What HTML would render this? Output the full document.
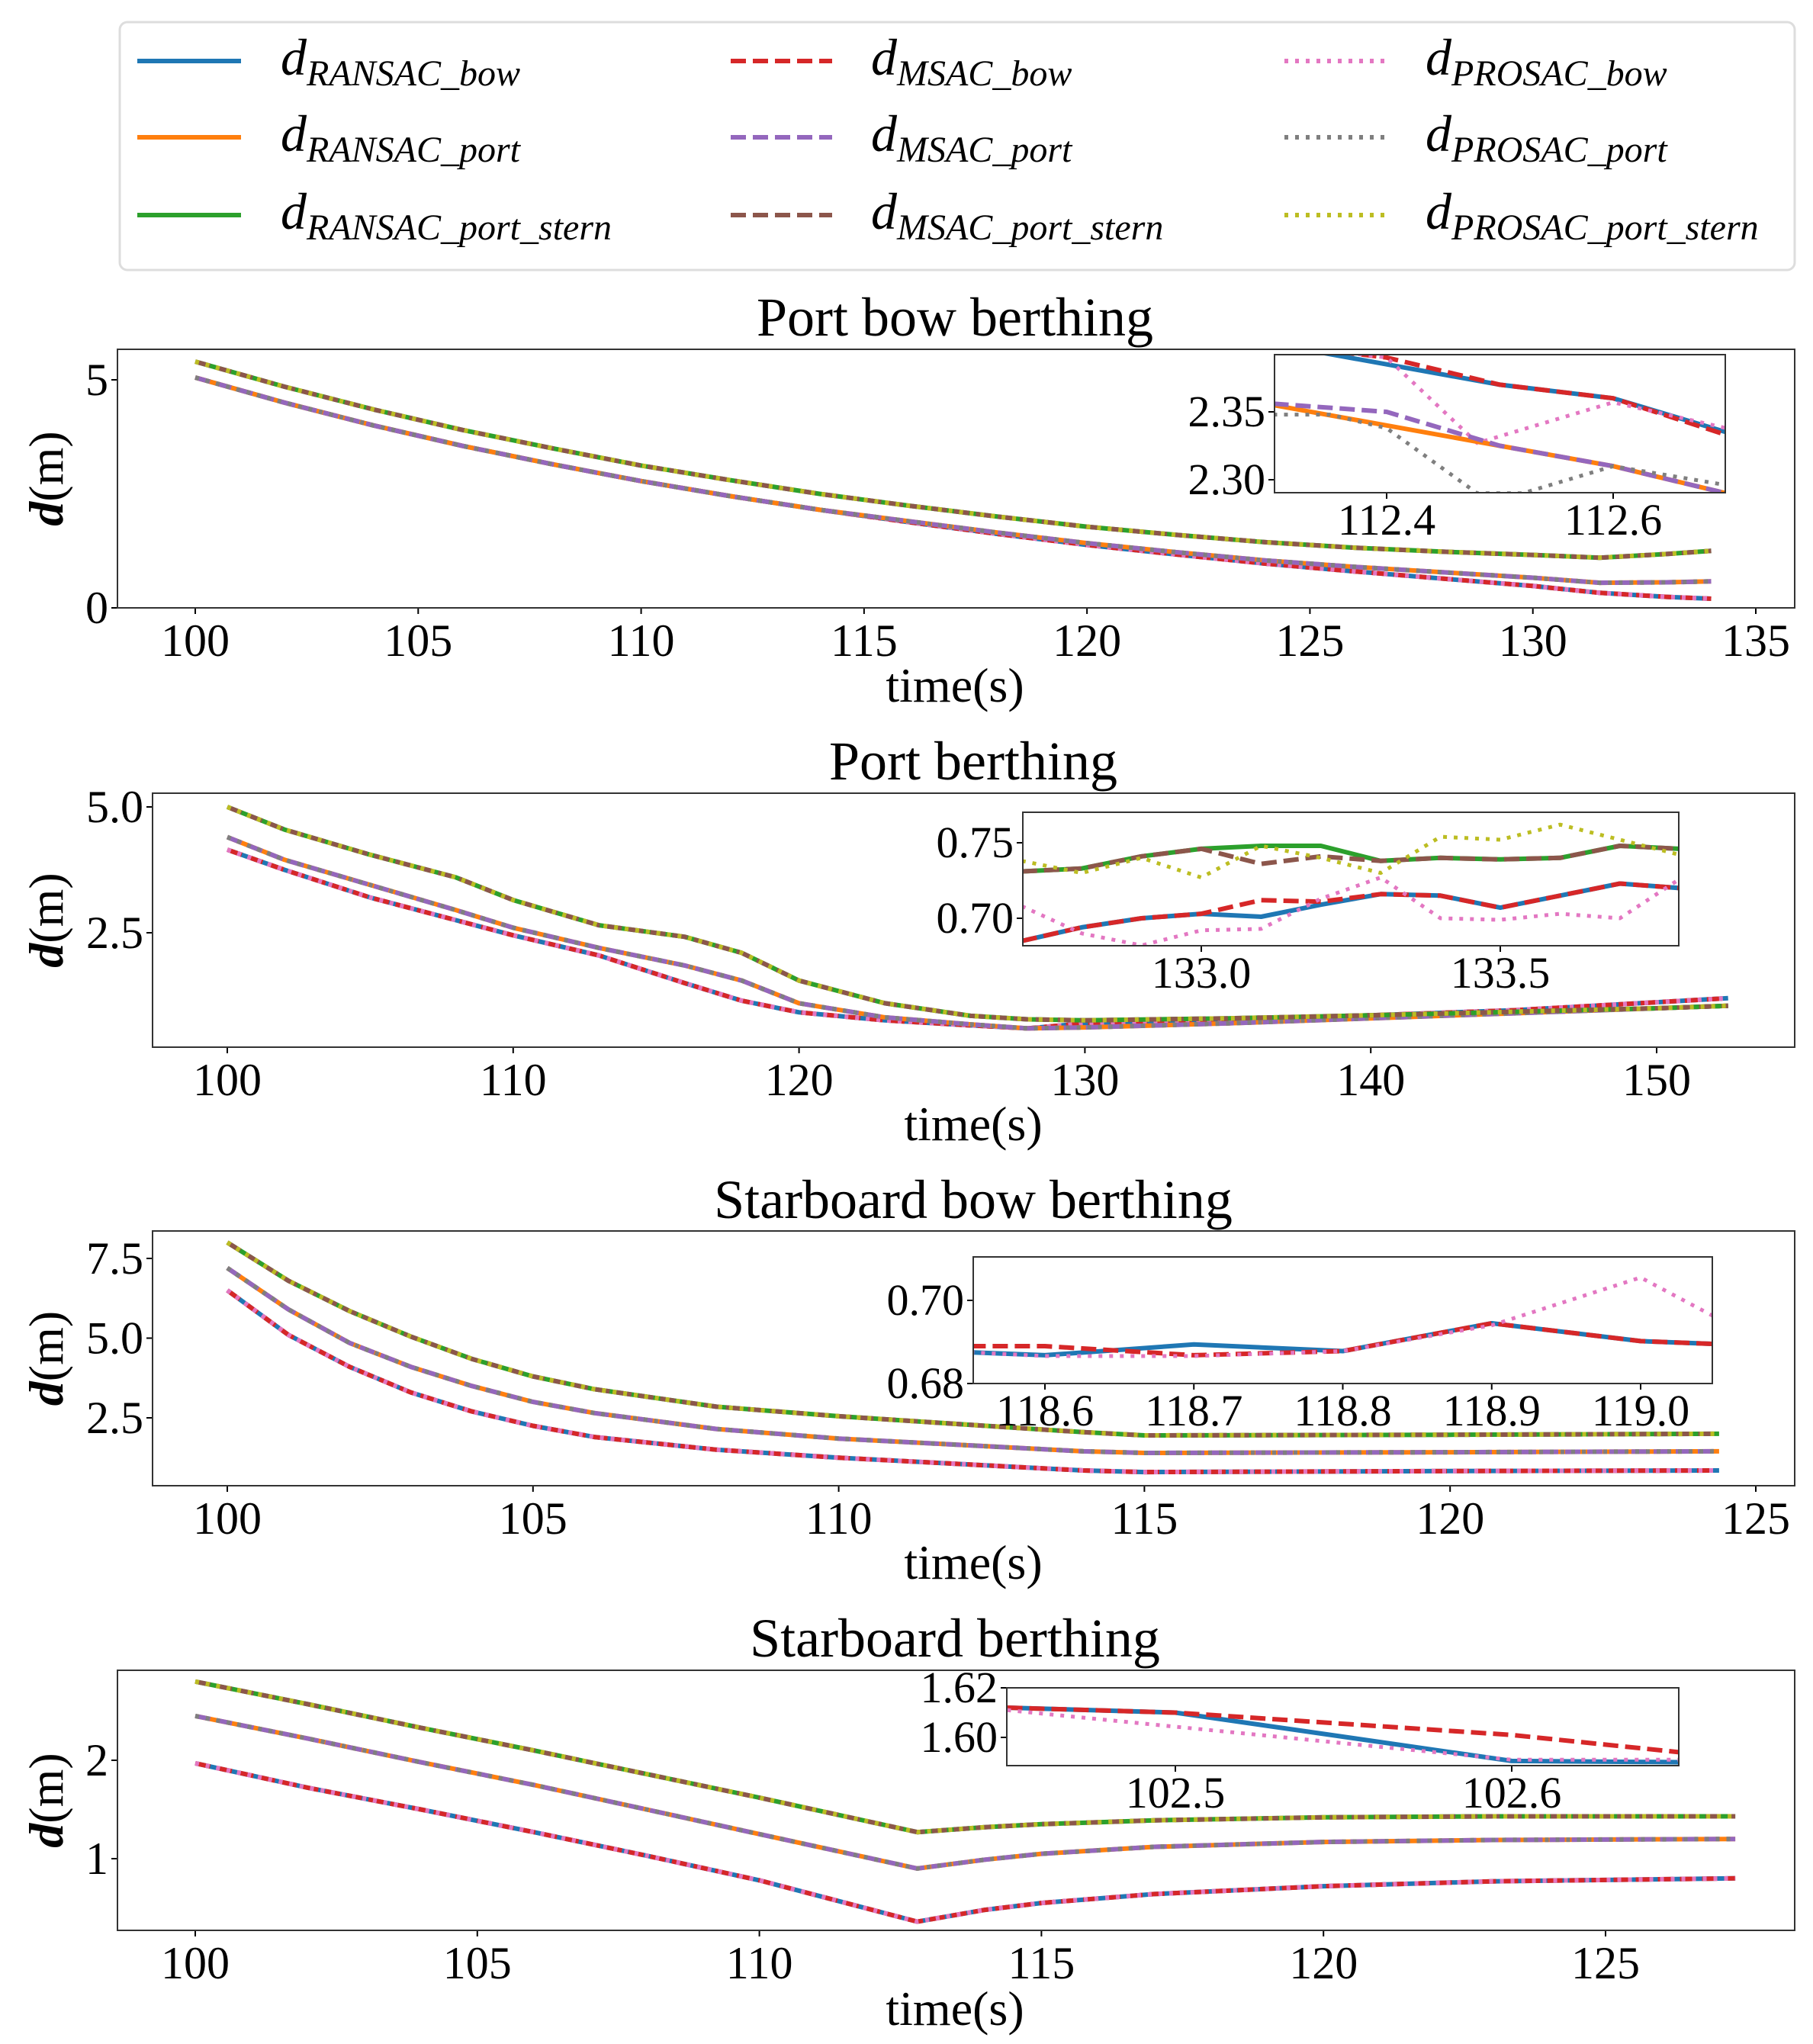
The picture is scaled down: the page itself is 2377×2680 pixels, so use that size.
<!DOCTYPE html>
<html><head><meta charset="utf-8"><style>
html,body{margin:0;padding:0;background:#fff;}
svg{display:block;font-family:"Liberation Serif","DejaVu Serif",serif;}
</style></head><body>
<svg id="chart" width="2377" height="2680" viewBox="0 0 2377 2680" xmlns="http://www.w3.org/2000/svg">
<g id="legend">
<rect x="157" y="29" width="2196" height="325" rx="10" fill="#fff" stroke="#ddd" stroke-width="3"/>
</g>
</svg>
<script>
// ---------- DATA ----------
const legendLabels = ["RANSAC_bow","MSAC_bow","PROSAC_bow","RANSAC_port","MSAC_port","PROSAC_port","RANSAC_port_stern","MSAC_port_stern","PROSAC_port_stern"];

// Panel 1: Port bow berthing
const p1Time = [100,102,104,106,108,110,112,114,116,118,120,122,124,126,128,130,131.5,133,134];
const p1Bow = [5.05,4.5,4.0,3.55,3.15,2.78,2.45,2.15,1.88,1.62,1.38,1.17,0.97,0.8,0.64,0.48,0.33,0.24,0.2];
const p1Port = [5.05,4.5,4.0,3.55,3.15,2.78,2.45,2.15,1.9,1.65,1.42,1.22,1.04,0.9,0.78,0.66,0.55,0.56,0.58];
const p1Stern = [5.4,4.85,4.35,3.9,3.5,3.12,2.8,2.5,2.24,2.0,1.78,1.6,1.44,1.32,1.23,1.16,1.1,1.18,1.25];

// Panel 2: Port berthing
const p2Time = [100,102,105,108,110,113,116,118,120,123,126,128,130,135,140,145,150,152.5];
const p2Bow = [4.15,3.75,3.2,2.75,2.45,2.05,1.5,1.15,0.92,0.76,0.66,0.6,0.7,0.78,0.86,0.96,1.12,1.2];
const p2Port = [4.4,3.95,3.45,2.95,2.6,2.2,1.85,1.55,1.1,0.82,0.68,0.6,0.62,0.7,0.8,0.9,1.0,1.05];
const p2Stern = [5.0,4.55,4.05,3.6,3.15,2.65,2.42,2.1,1.55,1.1,0.85,0.78,0.76,0.8,0.86,0.93,1.0,1.05];

// Panel 3: Starboard bow berthing
const p3Time = [100,101,102,103,104,105,106,108,110,112,114,115,120,124.4];
const p3Bow = [6.5,5.1,4.1,3.3,2.7,2.25,1.9,1.5,1.25,1.05,0.85,0.8,0.83,0.85];
const p3Port = [7.2,5.9,4.85,4.1,3.5,3.0,2.65,2.15,1.85,1.65,1.45,1.4,1.42,1.45];
const p3Stern = [8.0,6.8,5.85,5.05,4.35,3.8,3.4,2.85,2.55,2.3,2.05,1.95,1.97,2.0];

// Panel 4: Starboard berthing
const p4Time = [100,102,104,106,108,110,112.8,114,115,117,120,123,127.3];
const p4Bow = [1.97,1.72,1.5,1.27,1.03,0.78,0.36,0.48,0.55,0.64,0.72,0.77,0.8];
const p4Port = [2.45,2.22,1.98,1.75,1.5,1.25,0.9,0.99,1.05,1.12,1.17,1.19,1.2];
const p4Stern = [2.8,2.57,2.33,2.1,1.86,1.62,1.27,1.32,1.35,1.39,1.42,1.43,1.43];

// Inset 1
const i1TimeA = [112.3,112.4,112.5,112.6,112.7];
const i1Ransac = [2.40,2.385,2.37,2.36,2.335];
const i1Msac = [2.40,2.39,2.37,2.36,2.333];
const i1TimeP = [112.3,112.4,112.48,112.6,112.7];
const i1Prosac = [2.40,2.39,2.327,2.357,2.338];
const i1Port = [2.355,2.34,2.325,2.31,2.29];
const i1MsacPort = [2.356,2.35,2.325,2.31,2.29];
const i1TimeG = [112.3,112.35,112.4,112.48,112.52,112.6,112.7];
const i1ProsacPort = [2.348,2.348,2.338,2.29,2.29,2.31,2.296];

// Inset 2
const i2Time = [132.7,132.8,132.9,133.0,133.1,133.2,133.3,133.4,133.5,133.6,133.7,133.8];
const i2Green = [.731,.733,.741,.746,.748,.748,.738,.740,.739,.740,.748,.746];
const i2Brown = [.731,.733,.741,.746,.736,.741,.738,.740,.739,.740,.748,.746];
const i2Olive = [.738,.730,.740,.727,.748,.740,.730,.754,.752,.762,.752,.742];
const i2Blue = [.685,.694,.700,.703,.701,.709,.716,.715,.707,.715,.723,.720];
const i2Red = [.685,.694,.700,.703,.712,.711,.716,.715,.707,.715,.723,.720];
const i2Pink = [.708,.690,.682,.692,.693,.713,.727,.700,.699,.703,.700,.726];

// Inset 3
const i3Time = [118.55,118.6,118.7,118.8,118.9,119.0,119.05];
const i3Blue = [.6875,.6868,.6894,.6878,.6945,.6902,.6895];
const i3Red = [.689,.689,.6868,.6878,.6945,.6902,.6895];
const i3Pink = [.6875,.6866,.6866,.6878,.694,.7055,.696];

// Inset 4
const i4Time = [102.45,102.5,102.6,102.65];
const i4Blue = [1.612,1.610,1.5905,1.590];
const i4Red = [1.612,1.610,1.601,1.594];
const i4TimePink = [102.45,102.6,102.65];
const i4Pink = [1.611,1.591,1.591];

// Ticks
const p1XTicks = [100,105,110,115,120,125,130,135], p1YTicks = [0,5];
const p2XTicks = [100,110,120,130,140,150], p2YTicks = [2.5,5.0];
const p3XTicks = [100,105,110,115,120,125], p3YTicks = [2.5,5.0,7.5];
const p4XTicks = [100,105,110,115,120,125], p4YTicks = [1,2];
const i1XTicks = [112.4,112.6], i1YTicks = [2.30,2.35];
const i2XTicks = [133.0,133.5], i2YTicks = [0.70,0.75];
const i3XTicks = [118.6,118.7,118.8,118.9,119.0], i3YTicks = [0.68,0.70];
const i4XTicks = [102.5,102.6], i4YTicks = [1.60,1.62];

// ---------- DRAWING ----------
const NS = "http://www.w3.org/2000/svg";
const svg = document.getElementById("chart");
const C = {blue:"#1f77b4",orange:"#ff7f0e",green:"#2ca02c",red:"#d62728",purple:"#9467bd",brown:"#8c564b",pink:"#e377c2",gray:"#7f7f7f",olive:"#bcbd22"};
function mk(tag, attrs, parent){const e=document.createElementNS(NS,tag);for(const k in attrs)e.setAttribute(k,attrs[k]);(parent||svg).appendChild(e);return e;}
function axis(d0,d1,r0,r1){return v=>r0+(v-d0)*(r1-r0)/(d1-d0);}
const DASH="20,9", DOT="5,9";

function series(g,sx,sy,xs,ys,color,style,w,name){
  const pts=xs.map((x,i)=>sx(x).toFixed(1)+","+sy(ys[i]).toFixed(1)).join(" ");
  const p=mk("polyline",{points:pts,fill:"none",stroke:color,"stroke-width":w,"stroke-linejoin":"round"},g);
  if(style==="dash")p.setAttribute("stroke-dasharray",DASH);
  if(style==="dot")p.setAttribute("stroke-dasharray",DOT);
  
  
  return p;
}

function frame(g,x0,x1,y0,y1,sx,sy,xt,yt,fs,dec,name,xoff){
  const bg=mk("rect",{x:x0,y:y0,width:x1-x0,height:y1-y0,fill:"#fff",stroke:"none"},g);
  
  
  xt.forEach(t=>{const X=sx(t);mk("line",{x1:X,y1:y1,x2:X,y2:y1+8,stroke:"#000","stroke-width":2},g);
    const tx=mk("text",{x:X,y:y1+fs*0.95+xoff,"font-size":fs,"text-anchor":"middle"},g);tx.textContent=dec.x==null?String(t):t.toFixed(dec.x);
    
    });
  yt.forEach(t=>{const Y=sy(t);mk("line",{x1:x0-8,y1:Y,x2:x0,y2:Y,stroke:"#000","stroke-width":2},g);
    const tx=mk("text",{x:x0-12,y:Y+fs*0.33,"font-size":fs,"text-anchor":"end"},g);tx.textContent=dec.y==null?String(t):t.toFixed(dec.y);
    
    });
}
function border(g,x0,x1,y0,y1,name){const r=mk("rect",{x:x0,y:y0,width:x1-x0,height:y1-y0,fill:"none",stroke:"#333","stroke-width":2},g);
  
  }

function group3(g,sx,sy,t,y,cols,w,name){
  series(g,sx,sy,t,y,cols[0],"solid",w,name+"-ransac");
  series(g,sx,sy,t,y,cols[1],"dash",w,name+"-msac");
  series(g,sx,sy,t,y,cols[2],"dot",w,name+"-prosac");
}
const BOW=[C.blue,C.red,C.pink], PORT=[C.orange,C.purple,C.gray], STERN=[C.green,C.brown,C.olive];

function panel(cfg){
  const g=mk("g",{});
  
  
  const sx=axis(cfg.xd[0],cfg.xd[1],cfg.xr[0],cfg.xr[1]);
  const sy=axis(cfg.yd[0],cfg.yd[1],cfg.yr[0],cfg.yr[1]);
  frame(g,cfg.box[0],cfg.box[1],cfg.box[2],cfg.box[3],sx,sy,cfg.xt,cfg.yt,60,cfg.dec,cfg.name,6);
  const cg=mk("g",{},g);
  group3(cg,sx,sy,cfg.t,cfg.bow,BOW,6,cfg.name+"-bow");
  group3(cg,sx,sy,cfg.t,cfg.port,PORT,6,cfg.name+"-port");
  group3(cg,sx,sy,cfg.t,cfg.stern,STERN,6,cfg.name+"-stern");
  border(g,cfg.box[0],cfg.box[1],cfg.box[2],cfg.box[3],cfg.name);
  const tt=mk("text",{x:cfg.titleX,y:cfg.titleY,"font-size":72,"text-anchor":"middle"},g);tt.textContent=cfg.title;
  
  
  const xl=mk("text",{x:cfg.titleX,y:cfg.xlY,"font-size":64,"text-anchor":"middle"},g);xl.textContent="time(s)";
  
  
  const cy=(cfg.box[2]+cfg.box[3])/2;
  const yl=mk("text",{x:0,y:0,"font-size":64,"text-anchor":"middle",transform:`translate(82,${cy}) rotate(-90)`},g);
  yl.innerHTML='<tspan font-style="italic" font-weight="bold">d</tspan>(m)';
  
  
  return g;
}
function inset(cfg,draw){
  const g=mk("g",{});
  
  
  const sx=axis(cfg.xd[0],cfg.xd[1],cfg.xr[0],cfg.xr[1]);
  const sy=axis(cfg.yd[0],cfg.yd[1],cfg.yr[0],cfg.yr[1]);
  const b=cfg.box;
  frame(g,b[0],b[1],b[2],b[3],sx,sy,cfg.xt,cfg.yt,58,cfg.dec,cfg.name,0);
  const cp="clip-"+cfg.name;
  const cl=mk("clipPath",{id:cp},g);mk("rect",{x:b[0],y:b[2],width:b[1]-b[0],height:b[3]-b[2]},cl);
  const cg=mk("g",{"clip-path":`url(#${cp})`},g);
  draw(cg,sx,sy);
  border(g,b[0],b[1],b[2],b[3],cfg.name);
}

// Legend entries
const lg=document.getElementById("legend");
const colX=[[180,316,368],[958,1091,1142],[1684,1816,1869]];
const rowY=[80,180,282];
const legCols=[[C.blue,C.orange,C.green],[C.red,C.purple,C.brown],[C.pink,C.gray,C.olive]];
const legStyle=["solid","dash","dot"];
const legNames=[["RANSAC_bow","RANSAC_port","RANSAC_port_stern"],["MSAC_bow","MSAC_port","MSAC_port_stern"],["PROSAC_bow","PROSAC_port","PROSAC_port_stern"]];
for(let c=0;c<3;c++)for(let r=0;r<3;r++){
  const e=mk("g",{},lg);
  
  
  const ln=mk("line",{x1:colX[c][0],y1:rowY[r],x2:colX[c][1],y2:rowY[r],stroke:legCols[c][r],"stroke-width":6},e);
  if(legStyle[c]==="dash")ln.setAttribute("stroke-dasharray",DASH);
  if(legStyle[c]==="dot")ln.setAttribute("stroke-dasharray",DOT);
  const t=mk("text",{x:colX[c][2],y:rowY[r]+18,"font-size":68,"font-style":"italic"},e);
  t.innerHTML='d<tspan font-size="48" dy="14">'+legNames[c][r]+'</tspan>';
}

panel({name:"port-bow-panel",title:"Port bow berthing",titleX:1252,titleY:440,xlY:920,
  box:[154,2353,458,797],xd:[100,135],xr:[256,2302],yd:[0,5],yr:[797,498],xt:p1XTicks,yt:p1YTicks,dec:{x:null,y:null},
  t:p1Time,bow:p1Bow,port:p1Port,stern:p1Stern});
panel({name:"port-panel",title:"Port berthing",titleX:1276,titleY:1022,xlY:1495,
  box:[200,2353,1040,1373],xd:[100,150],xr:[298,2172],yd:[2.5,5],yr:[1223,1058],xt:p2XTicks,yt:p2YTicks,dec:{x:null,y:1},
  t:p2Time,bow:p2Bow,port:p2Port,stern:p2Stern});
panel({name:"starboard-bow-panel",title:"Starboard bow berthing",titleX:1276,titleY:1597,xlY:2070,
  box:[200,2353,1614,1948],xd:[100,125],xr:[298,2302],yd:[2.5,7.5],yr:[1859,1650],xt:p3XTicks,yt:p3YTicks,dec:{x:null,y:1},
  t:p3Time,bow:p3Bow,port:p3Port,stern:p3Stern});
panel({name:"starboard-panel",title:"Starboard berthing",titleX:1252,titleY:2172,xlY:2655,
  box:[154,2353,2190,2531],xd:[100,125],xr:[256,2105],yd:[1,2],yr:[2437,2308],xt:p4XTicks,yt:p4YTicks,dec:{x:null,y:null},
  t:p4Time,bow:p4Bow,port:p4Port,stern:p4Stern});

inset({name:"port-bow-inset",box:[1671,2262,465,646],xd:[112.4,112.6],xr:[1818,2115],yd:[2.30,2.35],yr:[629,540],xt:i1XTicks,yt:i1YTicks,dec:{x:1,y:2}},(g,sx,sy)=>{
  series(g,sx,sy,i1TimeA,i1Ransac,C.blue,"solid",6,"inset1-ransac-bow");
  series(g,sx,sy,i1TimeA,i1Msac,C.red,"dash",6,"inset1-msac-bow");
  series(g,sx,sy,i1TimeP,i1Prosac,C.pink,"dot",5,"inset1-prosac-bow");
  series(g,sx,sy,i1TimeA,i1Port,C.orange,"solid",6,"inset1-ransac-port");
  series(g,sx,sy,i1TimeA,i1MsacPort,C.purple,"dash",6,"inset1-msac-port");
  series(g,sx,sy,i1TimeG,i1ProsacPort,C.gray,"dot",5,"inset1-prosac-port");
});
inset({name:"port-inset",box:[1341,2201,1065,1240],xd:[133.0,133.5],xr:[1575,1967],yd:[0.70,0.75],yr:[1204,1105],xt:i2XTicks,yt:i2YTicks,dec:{x:1,y:2}},(g,sx,sy)=>{
  series(g,sx,sy,i2Time,i2Green,C.green,"solid",6,"inset2-ransac-port-stern");
  series(g,sx,sy,i2Time,i2Brown,C.brown,"dash",6,"inset2-msac-port-stern");
  series(g,sx,sy,i2Time,i2Olive,C.olive,"dot",5,"inset2-prosac-port-stern");
  series(g,sx,sy,i2Time,i2Blue,C.blue,"solid",6,"inset2-ransac-bow");
  series(g,sx,sy,i2Time,i2Red,C.red,"dash",6,"inset2-msac-bow");
  series(g,sx,sy,i2Time,i2Pink,C.pink,"dot",5,"inset2-prosac-bow");
});
inset({name:"starboard-bow-inset",box:[1276,2245,1648,1814],xd:[118.6,119.0],xr:[1370,2151],yd:[0.68,0.70],yr:[1814,1705],xt:i3XTicks,yt:i3YTicks,dec:{x:1,y:2}},(g,sx,sy)=>{
  series(g,sx,sy,i3Time,i3Blue,C.blue,"solid",6,"inset3-ransac-bow");
  series(g,sx,sy,i3Time,i3Red,C.red,"dash",6,"inset3-msac-bow");
  series(g,sx,sy,i3Time,i3Pink,C.pink,"dot",5,"inset3-prosac-bow");
});
inset({name:"starboard-inset",box:[1320,2201,2213,2315],xd:[102.5,102.6],xr:[1541,1982],yd:[1.60,1.62],yr:[2278,2213],xt:i4XTicks,yt:i4YTicks,dec:{x:1,y:2}},(g,sx,sy)=>{
  series(g,sx,sy,i4Time,i4Blue,C.blue,"solid",6,"inset4-ransac-bow");
  series(g,sx,sy,i4Time,i4Red,C.red,"dash",6,"inset4-msac-bow");
  series(g,sx,sy,i4TimePink,i4Pink,C.pink,"dot",5,"inset4-prosac-bow");
});
</script>
</body></html>
